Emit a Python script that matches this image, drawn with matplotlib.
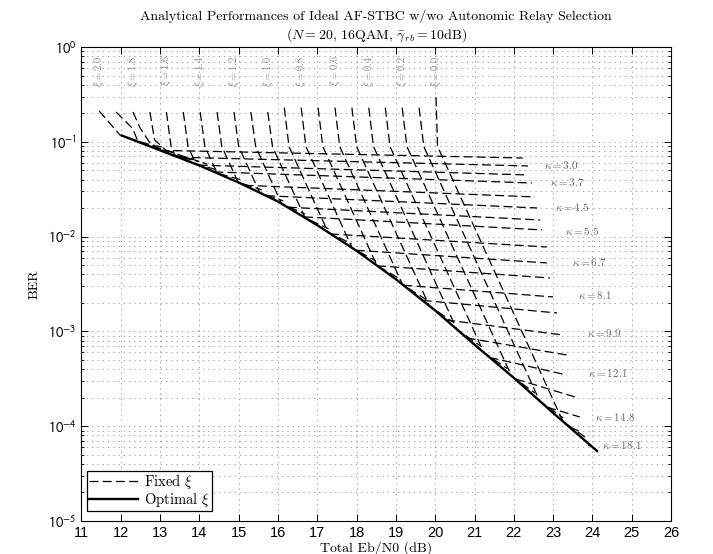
import numpy as np
import matplotlib
matplotlib.use('Agg')
import matplotlib.pyplot as plt
from matplotlib.lines import Line2D
from matplotlib.ticker import LogLocator, NullFormatter

plt.rcParams['mathtext.fontset'] = 'cm'
plt.rcParams['font.family'] = 'cmr10'
plt.rcParams['axes.unicode_minus'] = False
plt.rcParams['lines.scale_dashes'] = False

# ---------------- data ----------------
# optimal xi curve (solid)
opt_x = [12.0, 13.0, 14.0, 15.0, 16.0, 17.0, 18.0, 19.0, 20.0, 21.0, 22.0, 23.0, 24.14]
opt_log_ber = [-0.93, -1.09, -1.25, -1.43, -1.63, -1.88, -2.15, -2.45, -2.78, -3.14, -3.49, -3.86, -4.27]

# fixed-xi curves (dashed), one polyline per xi
xi_values = [2.0, 1.9, 1.8, 1.7, 1.6, 1.5, 1.4, 1.3, 1.2, 1.1, 1.0,
             0.9, 0.8, 0.7, 0.6, 0.5, 0.4, 0.3, 0.2, 0.1, 0.0]
xi_curve_x = [
    [11.45, 11.98, 14.2],
    [11.88, 12.30, 12.44, 13.04],
    [12.31, 12.49, 12.82, 13.42],
    [12.74, 12.86, 13.25, 13.85],
    [13.16, 13.28, 13.39, 13.99],
    [13.59, 13.71, 13.915, 14.515],
    [14.02, 14.14, 14.45, 15.05],
    [14.45, 14.57, 14.985, 15.585],
    [14.88, 15.00, 15.536, 16.136],
    [15.31, 15.43, 16.09, 16.69],
    [15.74, 15.86, 16.687, 17.287],
    [16.16, 16.28, 17.274, 17.874],
    [16.59, 16.71, 17.886, 18.486],
    [17.02, 17.14, 18.52, 19.12],
    [17.45, 17.57, 19.17, 19.77],
    [17.88, 18.00, 19.85, 20.45],
    [18.31, 18.43, 20.55, 21.15],
    [18.73, 18.85, 21.24, 21.84],
    [19.16, 19.28, 21.94, 22.54],
    [19.59, 19.71, 22.66, 23.26],
    [20.02, 20.06, 23.25, 23.85],
]
xi_curve_log_ber = [
    [-0.675, -0.93, -1.236],
    [-0.686, -0.86, -1.00, -1.056],
    [-0.686, -0.854, -1.061, -1.117],
    [-0.686, -0.98, -1.13, -1.186],
    [-0.686, -1.05, -1.153, -1.208],
    [-0.686, -1.05, -1.236, -1.303],
    [-0.686, -1.05, -1.331, -1.40],
    [-0.686, -1.05, -1.427, -1.507],
    [-0.686, -1.05, -1.537, -1.624],
    [-0.686, -1.05, -1.653, -1.763],
    [-0.686, -1.05, -1.802, -1.918],
    [-0.64, -1.05, -1.954, -2.076],
    [-0.64, -1.05, -2.119, -2.256],
    [-0.64, -1.05, -2.307, -2.45],
    [-0.64, -1.05, -2.507, -2.664],
    [-0.64, -1.05, -2.73, -2.902],
    [-0.64, -1.05, -2.978, -3.153],
    [-0.64, -1.05, -3.225, -3.394],
    [-0.64, -1.05, -3.47, -3.65],
    [-0.64, -1.05, -3.736, -3.914],
    [-0.53, -1.05, -3.95, -4.126],
]
xi_label_values = [2.0, 1.8, 1.6, 1.4, 1.2, 1.0, 0.8, 0.6, 0.4, 0.2, 0.0]
xi_label_x = [11.45, 12.31, 13.16, 14.02, 14.88, 15.74, 16.59, 17.45, 18.31, 19.16, 20.02]
xi_label_log_y = -0.253

# fixed-kappa lines (dashed), from left end to right end
kappa_left_x = [13.0, 13.47, 13.98, 14.38, 15.15, 15.7, 16.25, 16.66, 17.33, 17.98,
                18.52, 19.19, 19.68, 20.28, 20.8, 21.38, 22.05, 22.85, 23.43, 23.98]
kappa_left_log_ber = [-1.09, -1.163, -1.246, -1.318, -1.459, -1.569, -1.69, -1.792, -1.972, -2.144,
                      -2.308, -2.513, -2.673, -2.88, -3.069, -3.275, -3.503, -3.80, -4.016, -4.215]
kappa_right_x = [22.23, 22.36, 22.36, 22.46, 22.54, 22.59, 22.67, 22.72, 22.84, 22.84,
                 22.92, 23.00, 23.10, 23.25, 23.35, 23.35, 23.56, 23.68, 23.74, 23.89]
kappa_right_log_ber = [-1.171, -1.255, -1.350, -1.435, -1.582, -1.698, -1.825, -1.930, -2.110, -2.278,
                       -2.437, -2.637, -2.806, -3.038, -3.249, -3.460, -3.692, -3.903, -4.061, -4.198]
kappa_labels = [3.0, 3.7, 4.5, 5.5, 6.7, 8.1, 9.9, 12.1, 14.8, 18.1]
kappa_label_x = [22.76, 22.93, 23.05, 23.30, 23.48, 23.63, 23.86, 23.89, 24.07, 24.25]
kappa_label_log_y = [-1.245, -1.424, -1.688, -1.941, -2.268, -2.616, -3.017, -3.439, -3.903, -4.198]

x_ticks = list(range(11, 27))
y_tick_exps = [-5, -4, -3, -2, -1, 0]

# ---------------- figure ----------------
fig = plt.figure(figsize=(7.13, 5.54), dpi=100)
ax = fig.add_axes([0.1143, 0.0596, 0.8268, 0.8556])

dash = (0, (6.5, 3.0))
for xs, ls in zip(xi_curve_x, xi_curve_log_ber):
    ax.plot(xs, 10 ** np.array(ls), color='k', lw=0.9, ls=dash)
for x0, l0, x1, l1 in zip(kappa_left_x, kappa_left_log_ber, kappa_right_x, kappa_right_log_ber):
    ax.plot([x0, x1], [10 ** l0, 10 ** l1], color='k', lw=0.9, ls=dash)
ax.plot(opt_x, 10 ** np.array(opt_log_ber), color='k', lw=1.7, solid_capstyle='butt')

for v, xx in zip(xi_label_values, xi_label_x):
    ax.text(xx, 10 ** xi_label_log_y, r'$\xi = %.1f$' % v, rotation=90, ha='center',
            va='center', fontsize=7.5, color='0.55')
for v, xx, yy in zip(kappa_labels, kappa_label_x, kappa_label_log_y):
    ax.text(xx, 10 ** yy, r'$\kappa = %.1f$' % v, ha='left', va='center',
            fontsize=8, color='0.4')

ax.set_yscale('log')
ax.set_xlim(11, 26)
ax.set_ylim(1e-5, 1)
ax.set_xticks(x_ticks)
ax.set_xticklabels([str(t) for t in x_ticks], fontfamily='Liberation Sans', fontsize=10.5)
ax.set_yticks([10.0 ** e for e in y_tick_exps])
ax.set_yticklabels([r'$10^{%d}$' % e for e in y_tick_exps], fontfamily='Liberation Sans',
                   math_fontfamily='stixsans', fontsize=10.5)
ax.yaxis.set_minor_locator(LogLocator(base=10, subs=np.arange(2, 10), numticks=10))
ax.yaxis.set_minor_formatter(NullFormatter())

ax.tick_params(which='both', direction='in', top=True, right=True)
ax.tick_params(which='major', length=5, width=0.7)
ax.tick_params(which='minor', length=2.5, width=0.6)

grid_kw = dict(color='0.5', lw=0.5, ls=(0, (1, 2.8)))
ax.grid(True, which='major', **grid_kw)
ax.grid(True, which='minor', axis='y', **grid_kw)
for s in ax.spines.values():
    s.set_linewidth(0.8)

ax.set_title('Analytical Performances of Ideal AF-STBC w/wo Autonomic Relay Selection\n'
             r'($N = 20$, 16QAM, $\bar{\gamma}_{rb} = 10$dB)', fontsize=10, pad=6,
             linespacing=1.3)
ax.set_xlabel('Total Eb/N0 (dB)', fontsize=10, labelpad=1)
ax.set_ylabel('BER', fontsize=10, labelpad=5)

handles = [Line2D([], [], color='k', lw=0.9, ls=dash), Line2D([], [], color='k', lw=1.7)]
leg = ax.legend(handles, [r'Fixed $\xi$', r'Optimal $\xi$'], loc='lower left',
                bbox_to_anchor=(0.009, 0.021), borderaxespad=0, fancybox=False,
                edgecolor='k', framealpha=1, fontsize=10.5, handlelength=3.4,
                labelspacing=0.0, borderpad=0.12, handletextpad=0.4)
leg.get_frame().set_linewidth(0.9)

fig.savefig('out.png', dpi=100)
